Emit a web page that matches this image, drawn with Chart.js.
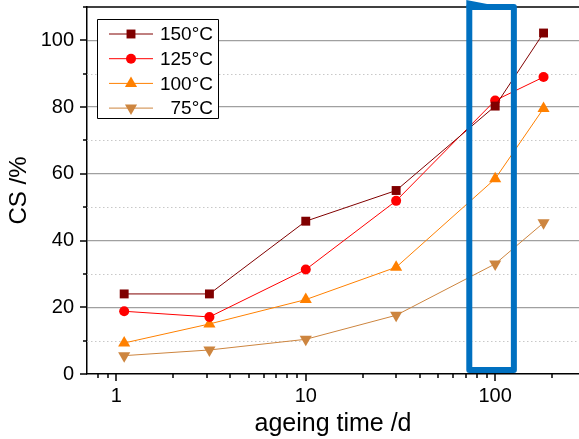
<!DOCTYPE html>
<html><head><meta charset="utf-8">
<script src="https://cdn.jsdelivr.net/npm/chart.js@4/dist/chart.umd.min.js"></script>
<style>html,body{margin:0;padding:0;background:#fff;overflow:hidden}#wrap{width:579px;height:439px;position:relative}</style>
</head><body><div id="wrap"><canvas id="c" width="579" height="439"></canvas></div>
<script>
// ---- data ----
const ageingDays = [1.1, 3.1, 10, 30, 100, 180];
const seriesLabels = ['150°C', '125°C', '100°C', '75°C'];
const cs150 = [24, 24, 45.8, 55, 80.3, 102.2];
const cs125 = [18.8, 17.1, 31.3, 51.9, 82, 89];
const cs100 = [9.3, 15, 22.3, 32, 58.5, 79.6];
const cs75 = [5.5, 7.2, 10.4, 17.6, 33, 45.3];
const xTickLabels = [1, 10, 100];
const xMinorTicks = [0.8, 0.9, 2, 3, 4, 5, 6, 7, 8, 9, 20, 30, 40, 50, 60, 70, 80, 90, 200];
const yTickLabels = [0, 20, 40, 60, 80, 100];
const yMinorTicks = [10, 30, 50, 70, 90, 110];
const highlightRange = { xMin: 73, xMax: 125.5, yMin: 1.2, yMax: 110 };

const FONT = "'Liberation Sans', Arial, sans-serif";
const colors = ['#800000', '#ff0000', '#ff8000', '#cd853f'];
const styles = ['rect', 'circle', 'triangle', 'triangle'];
const rotations = [0, 0, 0, 180];
const radii = [6.3, 5, 7, 7];
const seriesData = [cs150, cs125, cs100, cs75];

const datasets = seriesData.map((vals, i) => ({
  label: seriesLabels[i],
  data: ageingDays.map((d, j) => ({ x: d, y: vals[j] })),
  borderColor: colors[i],
  backgroundColor: colors[i],
  pointBackgroundColor: colors[i],
  pointBorderColor: colors[i],
  pointBorderWidth: 0,
  borderWidth: 1,
  pointStyle: styles[i],
  pointRotation: rotations[i],
  pointRadius: radii[i],
  tension: 0,
  clip: false
}));

function noPad(s) { s.paddingTop = 0; s.paddingBottom = 0; s.paddingLeft = 0; s.paddingRight = 0; }

const decor = {
  id: 'decor',
  beforeDatasetsDraw(chart) {
    const { ctx, chartArea: a, scales: { x, y } } = chart;
    ctx.save();
    ctx.strokeStyle = '#c8c8c8';
    ctx.lineWidth = 1;
    ctx.setLineDash([1.5, 2.5]);
    yMinorTicks.forEach(v => {
      const py = Math.round(y.getPixelForValue(v)) + 0.5;
      if (py < a.top + 2) return;
      ctx.beginPath(); ctx.moveTo(a.left, py); ctx.lineTo(a.right, py); ctx.stroke();
    });
    ctx.setLineDash([]);
    ctx.strokeStyle = '#000';
    ctx.lineWidth = 1.5;
    ctx.beginPath(); ctx.moveTo(a.left, a.top); ctx.lineTo(a.right, a.top); ctx.stroke();
    yTickLabels.forEach(v => {
      const py = Math.round(y.getPixelForValue(v));
      ctx.beginPath(); ctx.moveTo(a.left - 7, py); ctx.lineTo(a.left, py); ctx.stroke();
    });
    yMinorTicks.forEach(v => {
      const py = Math.round(y.getPixelForValue(v));
      ctx.beginPath(); ctx.moveTo(a.left - 4, py); ctx.lineTo(a.left, py); ctx.stroke();
    });
    xTickLabels.forEach(v => {
      const px = Math.round(x.getPixelForValue(v));
      ctx.beginPath(); ctx.moveTo(px, a.bottom); ctx.lineTo(px, a.bottom + 7); ctx.stroke();
    });
    xMinorTicks.forEach(v => {
      const px = Math.round(x.getPixelForValue(v));
      ctx.beginPath(); ctx.moveTo(px, a.bottom); ctx.lineTo(px, a.bottom + 4); ctx.stroke();
    });
    ctx.restore();
  },
  afterDatasetsDraw(chart) {
    const { ctx, chartArea: a, scales: { x, y } } = chart;
    ctx.save();
    const L = x.getPixelForValue(highlightRange.xMin);
    const R = x.getPixelForValue(highlightRange.xMax);
    const T = y.getPixelForValue(highlightRange.yMax);
    const B = y.getPixelForValue(highlightRange.yMin);
    ctx.strokeStyle = '#0070c0';
    ctx.fillStyle = '#0070c0';
    ctx.lineWidth = 6;
    ctx.lineJoin = 'round';
    ctx.strokeRect(L, T, R - L, B - T);
    ctx.beginPath();
    ctx.moveTo(L - 3, T - 7); ctx.lineTo(L + 23, T - 2); ctx.lineTo(L + 23, T + 1); ctx.lineTo(L - 3, T + 1);
    ctx.closePath(); ctx.fill();

    const bx = a.left + 10, by = a.top + 12, bw = 121, bh = 99;
    ctx.fillStyle = '#fff';
    ctx.fillRect(bx, by, bw, bh);
    ctx.strokeStyle = '#000';
    ctx.lineWidth = 1;
    ctx.strokeRect(bx + 0.5, by + 0.5, bw, bh);
    ctx.font = '19px ' + FONT;
    ctx.textAlign = 'right';
    ctx.textBaseline = 'middle';
    chart.data.datasets.forEach((ds, i) => {
      const ry = by + 15 + i * 24.7;
      ctx.strokeStyle = ds.borderColor;
      ctx.lineWidth = 1;
      ctx.beginPath(); ctx.moveTo(bx + 12, ry); ctx.lineTo(bx + 56, ry); ctx.stroke();
      ctx.fillStyle = ds.pointBackgroundColor;
      Chart.helpers.drawPoint(ctx, { pointStyle: ds.pointStyle, rotation: ds.pointRotation, radius: ds.pointRadius, borderWidth: 0 }, bx + 34, ry);
      ctx.fillStyle = '#000';
      ctx.fillText(ds.label, bx + bw - 5, ry + 1);
    });
    ctx.restore();
  }
};

new Chart(document.getElementById('c'), {
  type: 'line',
  data: { datasets },
  options: {
    responsive: false,
    animation: false,
    devicePixelRatio: 1,
    layout: { autoPadding: false, padding: { top: 7, right: 0, left: 0, bottom: 0 } },
    plugins: { legend: { display: false }, tooltip: { enabled: false } },
    scales: {
      x: {
        type: 'logarithmic',
        min: 0.713,
        max: 277,
        afterBuildTicks: s => { s.ticks = xTickLabels.map(v => ({ value: v })); },
        afterFit: s => { s.height = 65; noPad(s); },
        ticks: {
          callback: v => String(v),
          font: { family: FONT, size: 20 },
          color: '#000',
          padding: 10,
          maxRotation: 0,
          autoSkip: false
        },
        grid: { display: false, drawTicks: false },
        border: { display: true, color: '#000', width: 1.5 },
        title: { display: true, text: 'ageing time /d', font: { family: FONT, size: 25 }, color: '#000', padding: { top: 0, bottom: 0 } }
      },
      y: {
        min: 0,
        max: 110,
        afterBuildTicks: s => { s.ticks = yTickLabels.map(v => ({ value: v })); },
        afterFit: s => { s.width = 87; noPad(s); },
        ticks: {
          callback: v => String(v),
          font: { family: FONT, size: 20 },
          color: '#000',
          padding: 13
        },
        grid: {
          drawTicks: false,
          color: ctx => (ctx.tick && ctx.tick.value === 0) ? 'rgba(0,0,0,0)' : '#a0a0a0',
          lineWidth: 1.2
        },
        border: { display: true, color: '#000', width: 1.5 },
        title: { display: true, text: 'CS /%', font: { family: FONT, size: 24 }, color: '#000', padding: { top: 5, bottom: 0 } }
      }
    }
  },
  plugins: [decor]
});
</script>
</body></html>
